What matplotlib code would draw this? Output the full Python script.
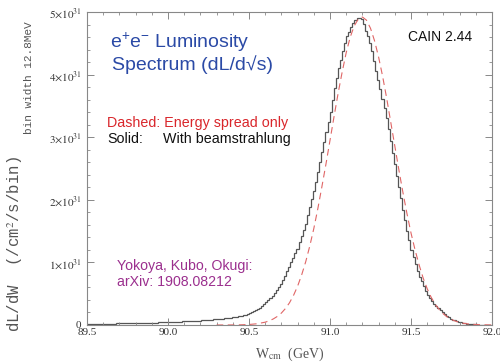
import numpy as np
import matplotlib
matplotlib.use("Agg")
import matplotlib.pyplot as plt
from matplotlib.ticker import MultipleLocator, FuncFormatter

plt.rcParams['mathtext.fontset'] = 'stix'
plt.rcParams['mathtext.rm'] = 'Liberation Sans'
plt.rcParams['mathtext.it'] = 'Liberation Sans'

# ---- data ----
bin_start = 89.5      # GeV
bin_width = 0.0128    # GeV (12.8 MeV)
# solid histogram, with beamstrahlung (units 1e31 /cm^2/s/bin)
solid_vals = [
    0.016, 0.017, 0.017, 0.018, 0.018, 0.019, 0.019, 0.020, 0.020, 0.021,
    0.021, 0.022, 0.022, 0.023, 0.024, 0.024, 0.025, 0.025, 0.026, 0.027,
    0.027, 0.028, 0.029, 0.030, 0.030, 0.031, 0.032, 0.033, 0.034, 0.035,
    0.036, 0.037, 0.038, 0.039, 0.040, 0.041, 0.042, 0.043, 0.044, 0.046,
    0.047, 0.048, 0.050, 0.051, 0.053, 0.054, 0.056, 0.057, 0.059, 0.061,
    0.063, 0.065, 0.067, 0.069, 0.071, 0.073, 0.075, 0.078, 0.080, 0.083,
    0.086, 0.089, 0.092, 0.095, 0.098, 0.101, 0.105, 0.109, 0.113, 0.117,
    0.121, 0.127, 0.134, 0.140, 0.148, 0.156, 0.165, 0.174, 0.186, 0.202,
    0.216, 0.232, 0.252, 0.278, 0.304, 0.328, 0.360, 0.396, 0.432, 0.469,
    0.510, 0.560, 0.609, 0.659, 0.724, 0.789, 0.859, 0.929, 1.00, 1.07,
    1.15, 1.21, 1.32, 1.42, 1.52, 1.62, 1.75, 1.88, 2.01, 2.14,
    2.29, 2.45, 2.61, 2.77, 2.93, 3.08, 3.24, 3.41, 3.59, 3.78,
    3.95, 4.11, 4.24, 4.38, 4.51, 4.61, 4.68, 4.76, 4.83, 4.88,
    4.91, 4.91, 4.89, 4.81, 4.70, 4.61, 4.50, 4.37, 4.21, 4.06,
    3.92, 3.77, 3.61, 3.46, 3.30, 3.13, 2.94, 2.75, 2.57, 2.38,
    2.21, 2.03, 1.84, 1.67, 1.50, 1.35, 1.20, 1.09, 0.98, 0.87,
    0.77, 0.70, 0.62, 0.54, 0.48, 0.43, 0.39, 0.34, 0.30, 0.27,
    0.24, 0.20, 0.175, 0.15, 0.125, 0.10, 0.086, 0.073, 0.060, 0.048,
    0.040, 0.034, 0.027, 0.020, 0.017, 0.014, 0.011, 0.008, 0.007, 0.006,
    0.005, 0.004, 0.003, 0.002, 0.002,
]
# dashed curve, energy spread only (units 1e31)
dashed_x = [90.30, 90.40, 90.45, 90.50, 90.55, 90.60, 90.625, 90.65, 90.675, 90.70,
            90.725, 90.75, 90.775, 90.80, 90.825, 90.85, 90.875, 90.90, 90.925, 90.95,
            90.975, 91.00, 91.025, 91.05, 91.075, 91.10, 91.125, 91.15, 91.175, 91.20,
            91.225, 91.25, 91.275, 91.30, 91.325, 91.35, 91.375, 91.40, 91.425, 91.45,
            91.475, 91.50, 91.525, 91.55, 91.575, 91.60, 91.625, 91.65, 91.675, 91.70,
            91.725, 91.75, 91.775, 91.80, 91.825, 91.85, 91.875, 91.90, 91.95, 92.00]
dashed_y = [0.0001, 0.001, 0.003, 0.008, 0.020, 0.045, 0.067, 0.097, 0.137, 0.191,
            0.263, 0.355, 0.474, 0.62, 0.80, 1.01, 1.26, 1.54, 1.86, 2.21,
            2.57, 2.95, 3.33, 3.70, 4.04, 4.35, 4.60, 4.78, 4.89, 4.92,
            4.87, 4.74, 4.54, 4.28, 3.97, 3.62, 3.24, 2.86, 2.48, 2.12,
            1.78, 1.47, 1.20, 0.96, 0.75, 0.58, 0.44, 0.33, 0.244, 0.177,
            0.126, 0.088, 0.061, 0.041, 0.027, 0.018, 0.012, 0.0074, 0.003, 0.001]
scale = 1e31
x_ticks = [89.5, 90.0, 90.5, 91.0, 91.5, 92.0]
y_ticks = [0, 1, 2, 3, 4, 5]

# ---- figure ----
W, H = 500, 364
fig = plt.figure(figsize=(W / 100, H / 100), dpi=100)
ax = fig.add_axes([87 / W, 1 - 325 / H, (492 - 87) / W, (325 - 12) / H])

edges = bin_start + bin_width * np.arange(len(solid_vals) + 1)
ax.stairs(np.array(solid_vals) * scale, edges, color='#555555', lw=0.9, baseline=None)
ax.plot(dashed_x, np.array(dashed_y) * scale, color='#e06666', lw=0.8, ls=(0, (6, 4)))

ax.set_xlim(89.5, 92.0)
ax.set_ylim(0, 5 * scale)
ax.set_xticks(x_ticks)
ax.set_yticks([v * scale for v in y_ticks])
ax.xaxis.set_minor_locator(MultipleLocator(0.1))
ax.yaxis.set_minor_locator(MultipleLocator(0.2 * scale))


def yfmt(v, pos):
    k = int(round(v / scale))
    return "0" if k == 0 else r"$%d{\times}10^{31}$" % k


ax.yaxis.set_major_formatter(FuncFormatter(yfmt))
ax.xaxis.set_major_formatter(FuncFormatter(lambda v, p: "%.1f" % v))
ax.tick_params(which='both', direction='in', top=True, right=True, colors='#888888',
               labelcolor='#333333')
ax.tick_params(which='major', length=5, width=0.7)
ax.tick_params(which='minor', length=2.5, width=0.6)
ax.tick_params(axis='x', pad=2, labelsize=8)
ax.tick_params(axis='y', pad=4, labelsize=8)
for lbl in ax.get_xticklabels() + ax.get_yticklabels():
    lbl.set_family('Liberation Serif')
for s in ax.spines.values():
    s.set_color('#888888')
    s.set_linewidth(0.8)


def P(x, y):
    return x / W, 1 - y / H


# axis labels
fig.text(*P(290, 358), r"W$_{\rm cm}$  (GeV)", ha='center', va='baseline',
         family='Liberation Serif', fontsize=10, color='#555555', math_fontfamily='stix')
fig.text(*P(25, 332), r"dL/dW  (/cm$^{2}$/s/bin)", rotation=90, ha='right', va='bottom',
         family='Liberation Mono', fontsize=11.3, color='#555555', math_fontfamily='stix')
fig.text(*P(34, 134), "bin width 12.8MeV", rotation=90, ha='right', va='bottom',
         family='Liberation Mono', fontsize=8, color='#555555')

# annotations
blue = '#2b4aa6'
fig.text(*P(110, 48), r"e$^{+}$e$^{-}$ Luminosity", ha='left', va='baseline',
         family=['Liberation Sans', 'DejaVu Sans'], fontsize=14, color=blue,
         math_fontfamily='custom')
fig.text(*P(112, 70), "Spectrum (dL/d\u221as)", ha='left', va='baseline',
         family=['Liberation Sans', 'DejaVu Sans'], fontsize=14, color=blue)
fig.text(*P(408, 41), "CAIN 2.44", ha='left', va='baseline',
         family='Liberation Sans', fontsize=10, color='#111111')
fig.text(*P(107, 127), "Dashed: Energy spread only", ha='left', va='baseline',
         family='Liberation Sans', fontsize=10.3, color='#d9262b')
fig.text(*P(107, 143), "Solid:", ha='left', va='baseline',
         family='Liberation Sans', fontsize=10.3, color='#111111')
fig.text(*P(163, 143), "With beamstrahlung", ha='left', va='baseline',
         family='Liberation Sans', fontsize=10.3, color='#111111')
purple = '#9b2f8e'
fig.text(*P(117, 270), "Yokoya, Kubo, Okugi:", ha='left', va='baseline',
         family='Liberation Sans', fontsize=10.2, color=purple)
fig.text(*P(117, 286), "arXiv: 1908.08212", ha='left', va='baseline',
         family='Liberation Sans', fontsize=10.2, color=purple)

fig.savefig("out.png", dpi=100)
